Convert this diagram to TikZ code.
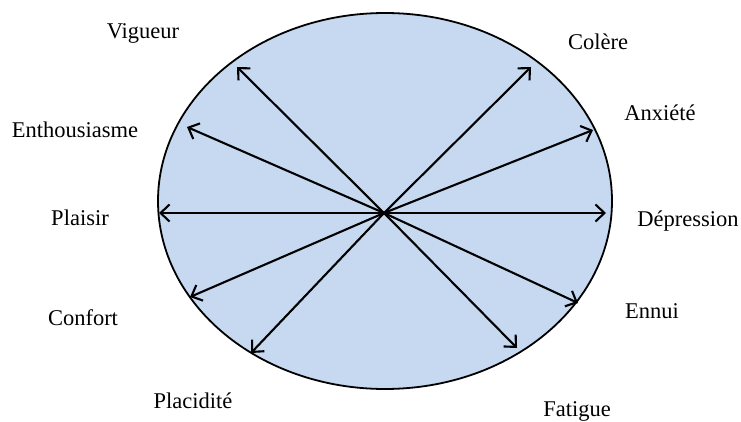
\documentclass[tikz,border=0pt]{standalone}
\usepackage{fontspec}
\setmainfont{Liberation Serif}
\usetikzlibrary{arrows.meta}
\definecolor{moodblue}{RGB}{198,217,240}
\tikzset{
    mood/.style={font=\fontsize{22.5}{26}\selectfont, inner sep=0pt},
    vec/.style={line width=2.1pt, -{Straight Barb[length=9pt, width=17pt, line width=2.1pt]}}
}
\begin{document}
\begin{tikzpicture}[x=1pt, y=-1pt]
    \useasboundingbox (0,0) rectangle (741,422);

    \filldraw[fill=moodblue, line width=1.8pt] (385,201) ellipse (227 and 188);
    \coordinate (o) at (384,213);

    \coordinate (vig) at (237,67);
    \coordinate (ent) at (187,127);
    \coordinate (pla) at (159,213);
    \coordinate (con) at (190,297);
    \coordinate (plc) at (251,353);
    \coordinate (col) at (531,67);
    \coordinate (anx) at (593,130);
    \coordinate (dep) at (606,213);
    \coordinate (enn) at (578,303);
    \coordinate (fat) at (517,348);

    \draw[vec] (o) -- (vig);
    \draw[vec] (o) -- (ent);
    \draw[vec] (o) -- (pla);
    \draw[vec] (o) -- (con);
    \draw[vec] (o) -- (plc);
    \draw[vec] (o) -- (col);
    \draw[vec] (o) -- (anx);
    \draw[vec] (o) -- (dep);
    \draw[vec] (o) -- (enn);
    \draw[vec] (o) -- (fat);

    \node[mood] (tvig) at (143,33) {Vigueur};
    \node[mood] (tent) at (75,130) {Enthousiasme};
    \node[mood] (tpla) at (80,218) {Plaisir};
    \node[mood] (tcon) at (83,318) {Confort};
    \node[mood] (tplc) at (193,401) {Placidité};
    \node[mood] (tcol) at (598,42) {Colère};
    \node[mood] (tanx) at (660,113) {Anxiété};
    \node[mood] (tdep) at (688,221) {Dépression};
    \node[mood] (tenn) at (652,311) {Ennui};
    \node[mood] (tfat) at (577,411) {Fatigue};
\end{tikzpicture}
\end{document}
